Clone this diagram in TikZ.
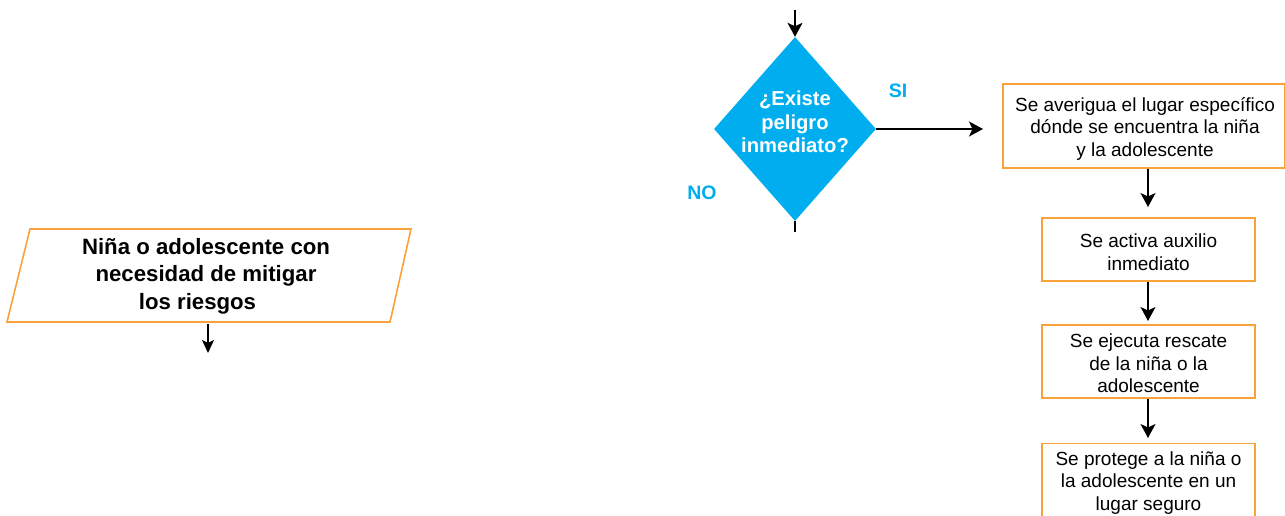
\documentclass[tikz,border=0pt]{standalone}
\usepackage{fontspec}
\setmainfont{Liberation Sans}
\usetikzlibrary{shapes.geometric,arrows.meta}
\definecolor{flowcyan}{HTML}{00AEEF}
\definecolor{floworange}{HTML}{F7A23B}
\tikzset{
  arr/.style={draw=black,line width=1.4pt,-{Stealth[width=15pt,length=14pt,inset=3.5pt]}},
  thinarr/.style={draw=black,line width=1.1pt,-{Stealth[width=12pt,length=13pt,inset=3pt]}},
  procbox/.style={draw=floworange,line width=1.3pt,fill=white,inner sep=0pt},
  proctxt/.style={align=center,inner sep=0pt,font=\fontsize{19}{22.5}\selectfont},
  boldtxt/.style={align=center,font=\fontsize{22.2}{27.5}\selectfont\bfseries},
  decision/.style={diamond,fill=flowcyan,inner sep=0pt,minimum width=162pt,minimum height=184pt},
  dectxt/.style={align=center,text=white,font=\fontsize{20.2}{23.5}\selectfont\bfseries},
  lbl/.style={text=flowcyan,font=\fontsize{19.5}{22}\selectfont\bfseries}
}
\begin{document}
\begin{tikzpicture}[x=1pt,y=-1pt]
\useasboundingbox (0,0) rectangle (1285,516);
\clip (0,0) rectangle (1285,516);
% parallelogram
\draw[floworange,line width=1.6pt] (30,229) -- (411,229) -- (390,322) -- (7,322) -- cycle;
\node[boldtxt] (start) at (206,276) {Niña o adolescente con\\necesidad de mitigar\\los riesgos\hspace*{17pt}};
\coordinate (pbot) at (208,324);
\coordinate (pend) at (208,353);
\draw[thinarr] (pbot) -- (pend);
% decision
\node[decision] (dec) at (795,129) {};
\node[dectxt] (dect) at (795,122) {¿Existe\\peligro\\inmediato?};
\coordinate (dtop) at (795,10);
\draw[arr] (dtop) -- (dec.north);
\coordinate (dbot) at (795,232);
\draw[black,line width=1.4pt] (dec.south) -- (dbot);
\node[lbl] (si) at (898,91) {SI};
\node[lbl] (no) at (702,193) {NO};
\coordinate (siend) at (983,129);
\draw[arr] (dec.east) -- (siend);
% boxes
\node[procbox,minimum width=282pt,minimum height=84pt] (b1) at (1144,126) {};
\node[proctxt] (b1t) at (1145,128.5) {Se averigua el lugar específico\\dónde se encuentra la niña\\y la adolescente};
\node[procbox,minimum width=213pt,minimum height=63pt] (b2) at (1148.5,249.5) {};
\node[proctxt] (b2t) at (1148.5,252) {Se activa auxilio\\inmediato};
\node[procbox,minimum width=213pt,minimum height=73pt] (b3) at (1148.5,361.5) {};
\node[proctxt] (b3t) at (1148.5,363.5) {Se ejecuta rescate\\de la niña o la\\adolescente};
\node[procbox,minimum width=213pt,minimum height=84pt,anchor=north] (b4) at (1148.5,443) {};
\node[proctxt] (b4t) at (1148.5,483) {Se protege a la niña o\\la adolescente en un\\lugar seguro};
\coordinate (a1) at (1148,207);
\coordinate (a2) at (1148,321);
\coordinate (a3) at (1148,438);
\draw[arr] (b1.south -| a1) -- (a1);
\draw[arr] (b2.south -| a2) -- (a2);
\draw[arr] (b3.south -| a3) -- (a3);
\end{tikzpicture}
\end{document}
